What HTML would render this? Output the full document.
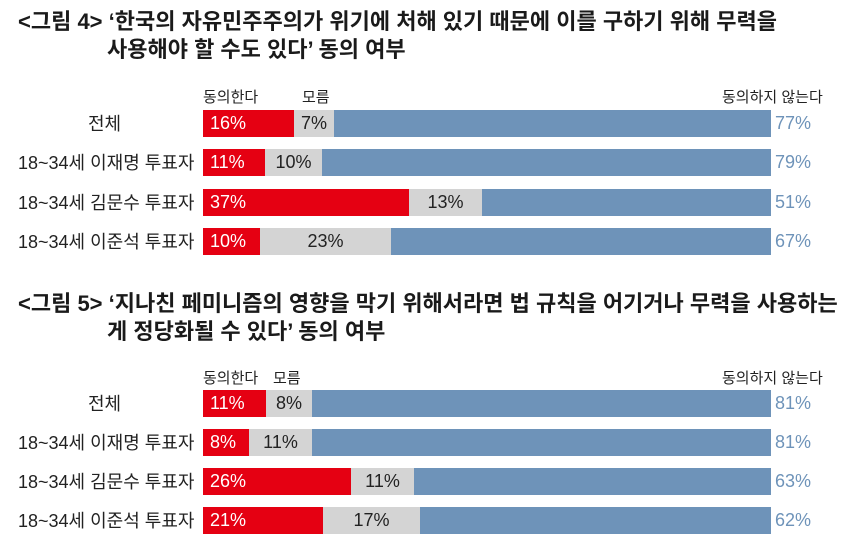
<!DOCTYPE html>
<html><head><meta charset="utf-8"><style>
body{margin:0;width:860px;height:558px;background:#fff;position:relative;overflow:hidden;font-family:"Liberation Sans","Noto Sans CJK KR",sans-serif;color:#222}
.t{position:absolute;font-size:22px;font-weight:bold;line-height:28px;white-space:nowrap;color:#1a1a1a}
.lab{position:absolute;font-size:18px;line-height:28px;white-space:nowrap}
.lg{position:absolute;font-size:15px;white-space:nowrap}
.bar{position:absolute;left:203px;width:568px;height:27px;display:flex}
.bar div{height:100%;font-size:18px;line-height:27px;white-space:nowrap;overflow:visible}
.r{background:#e50012;color:#fff;padding-left:7px;box-sizing:border-box}
.g{background:#d4d4d4;color:#222;text-align:center}
.b{background:#6e93b9;flex:1}
.v{position:absolute;left:775px;font-size:18px;line-height:27px;color:#6e93b9}
</style></head><body>
<div class="t" style="left:18px;top:8px">&lt;그림 4&gt; ‘한국의 자유민주주의가 위기에 처해 있기 때문에 이를 구하기 위해 무력을</div>
<div class="t" style="left:107px;top:36px">사용해야 할 수도 있다’ 동의 여부</div>
<div class="lg" style="left:203px;top:86px">동의한다</div>
<div class="lg" style="left:302px;top:86px">모름</div>
<div class="lg" style="left:722px;top:86px">동의하지 않는다</div>

<div class="lab" style="left:88px;top:110px">전체</div>
<div class="lab" style="left:18px;top:149px">18~34세 이재명 투표자</div>
<div class="lab" style="left:18px;top:189px">18~34세 김문수 투표자</div>
<div class="lab" style="left:18px;top:228px">18~34세 이준석 투표자</div>
<div class="bar" style="top:110px"><div class="r" style="width:91px">16%</div><div class="g" style="width:40px">7%</div><div class="b"></div></div>
<div class="bar" style="top:149px"><div class="r" style="width:62px">11%</div><div class="g" style="width:57px">10%</div><div class="b"></div></div>
<div class="bar" style="top:189px"><div class="r" style="width:206px">37%</div><div class="g" style="width:73px">13%</div><div class="b"></div></div>
<div class="bar" style="top:228px"><div class="r" style="width:57px">10%</div><div class="g" style="width:131px">23%</div><div class="b"></div></div>
<div class="v" style="top:110px">77%</div>
<div class="v" style="top:149px">79%</div>
<div class="v" style="top:189px">51%</div>
<div class="v" style="top:228px">67%</div>

<div class="t" style="left:18px;top:290px">&lt;그림 5&gt; ‘지나친 페미니즘의 영향을 막기 위해서라면 법 규칙을 어기거나 무력을 사용하는</div>
<div class="t" style="left:107px;top:318px">게 정당화될 수 있다’ 동의 여부</div>
<div class="lg" style="left:203px;top:367px">동의한다</div>
<div class="lg" style="left:273px;top:367px">모름</div>
<div class="lg" style="left:722px;top:367px">동의하지 않는다</div>

<div class="lab" style="left:88px;top:390px">전체</div>
<div class="lab" style="left:18px;top:429px">18~34세 이재명 투표자</div>
<div class="lab" style="left:18px;top:468px">18~34세 김문수 투표자</div>
<div class="lab" style="left:18px;top:507px">18~34세 이준석 투표자</div>
<div class="bar" style="top:390px"><div class="r" style="width:63px">11%</div><div class="g" style="width:46px">8%</div><div class="b"></div></div>
<div class="bar" style="top:429px"><div class="r" style="width:46px">8%</div><div class="g" style="width:63px">11%</div><div class="b"></div></div>
<div class="bar" style="top:468px"><div class="r" style="width:148px">26%</div><div class="g" style="width:63px">11%</div><div class="b"></div></div>
<div class="bar" style="top:507px"><div class="r" style="width:120px">21%</div><div class="g" style="width:97px">17%</div><div class="b"></div></div>
<div class="v" style="top:390px">81%</div>
<div class="v" style="top:429px">81%</div>
<div class="v" style="top:468px">63%</div>
<div class="v" style="top:507px">62%</div>
</body></html>
